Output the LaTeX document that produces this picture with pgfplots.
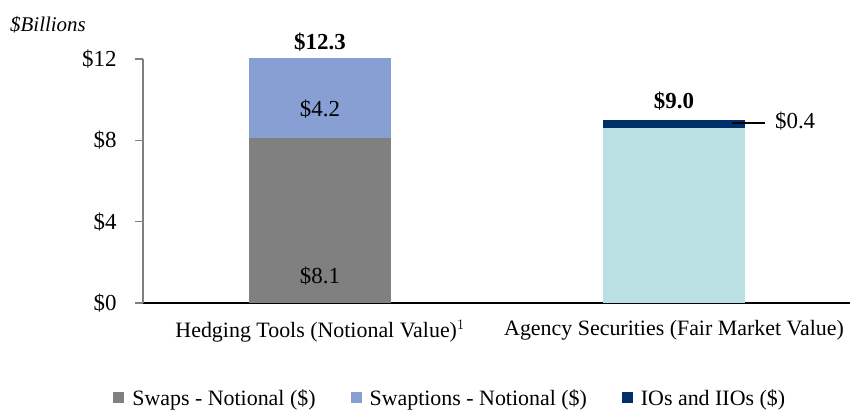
\documentclass[border=0pt]{standalone}
\usepackage{pgfplots}
\pgfplotsset{compat=1.18}
\usepackage{fontspec}
\setmainfont{Liberation Serif}
\definecolor{swapgray}{HTML}{808080}
\definecolor{swaptblue}{HTML}{889FD4}
\definecolor{ionavy}{HTML}{00306A}
\definecolor{agcyan}{HTML}{BAE0E4}
\begin{document}
\begin{tikzpicture}[x=1bp,y=1bp]
\path[use as bounding box] (0,0) rectangle (850,410);
\node[anchor=base west,font=\fontsize{21}{24}\selectfont\itshape,inner sep=0] at (10,379) {\$Billions};
\begin{axis}[
  at={(143bp,107bp)}, anchor=south west,
  scale only axis, width=708bp, height=244bp,
  ybar stacked, bar width=0.4,
  xmin=-0.5, xmax=1.5, ymin=0, ymax=12,
  xtick={0,1},
  xticklabels={Hedging Tools (Notional Value)$^{\fontsize{14}{14}\selectfont 1}$, Agency Securities (Fair Market Value)},
  ytick={0,4,8,12},
  yticklabel={\$\pgfmathprintnumber{\tick}},
  /pgf/number format/assume math mode=true,
  axis x line*=bottom, axis y line*=left,
  x axis line style={black, line width=1.8bp, -},
  y axis line style={gray, line width=1.2bp, -},
  major x tick style={draw=none},
  major y tick style={gray, line width=1.2bp},
  tick align=outside, major tick length=8bp,
  yticklabel style={font=\fontsize{23}{26}\selectfont, xshift=-15bp},
  xticklabel style={font=\fontsize{22}{26}\selectfont, yshift=-6bp},
  clip mode=individual,
  legend columns=3,
  legend style={at={(0.434,-0.389)}, anchor=center, draw=none, fill=none,
    font=\fontsize{22}{26}\selectfont, column sep=0bp,
    /tikz/every odd column/.append style={column sep=6bp},
    /tikz/every even column/.append style={column sep=33bp}},
  legend image code/.code={\fill[#1] (0bp,-5bp) rectangle (11bp,6bp);},
  after end axis/.code={
    \node[anchor=base, font=\fontsize{23}{26}\selectfont\bfseries] at (axis cs:0,12.49) {\$12.3};
    \node[anchor=base, font=\fontsize{23}{26}\selectfont\bfseries] at (axis cs:1,9.59) {\$9.0};
    \node[anchor=base, font=\fontsize{23}{26}\selectfont] at (axis cs:0,9.15) {\$4.2};
    \node[anchor=base, font=\fontsize{23}{26}\selectfont] at (axis cs:0,0.98) {\$8.1};
    \draw[black, line width=1.2bp] (axis cs:1.164,8.85) -- (axis cs:1.257,8.85);
    \node[anchor=base west, inner sep=0, font=\fontsize{23}{26}\selectfont] at (axis cs:1.285,8.56) {\$0.4};
  },
]
\addplot[fill=swapgray, draw=none] coordinates {(0,8.1) (1,0)};
\addlegendentry{Swaps - Notional (\$)}
\addplot[fill=swaptblue, draw=none] coordinates {(0,4.2) (1,0)};
\addlegendentry{Swaptions - Notional (\$)}
\addplot[fill=agcyan, draw=none, forget plot] coordinates {(0,0) (1,8.6)};
\addplot[fill=ionavy, draw=none] coordinates {(0,0) (1,0.4)};
\addlegendentry{IOs and IIOs (\$)}
\end{axis}
\end{tikzpicture}
\end{document}
